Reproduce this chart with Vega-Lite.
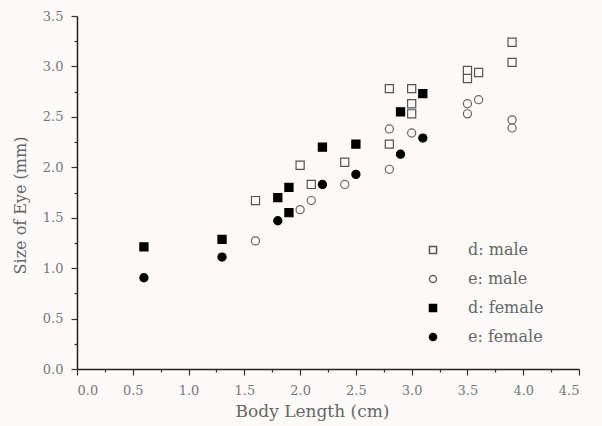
{
  "$schema": "https://vega.github.io/schema/vega-lite/v6.json",
  "width": 502,
  "height": 353,
  "autosize": "none",
  "padding": {"left": 77, "top": 16, "right": 23, "bottom": 57},
  "background": "#fdfbf9",
  "config": {
    "view": {"stroke": null},
    "axis": {
      "grid": false,
      "domainColor": "#222",
      "domainWidth": 1.5,
      "tickColor": "#333",
      "tickWidth": 1.2,
      "labelColor": "#777",
      "labelFont": "DejaVu Serif",
      "labelFontSize": 13,
      "labelPadding": 8,
      "titleFont": "DejaVu Serif",
      "titleFontSize": 16,
      "titleFontWeight": "normal",
      "titleColor": "#666"
    },
    "legend": {
      "labelFont": "DejaVu Serif",
      "labelFontSize": 16,
      "labelColor": "#666"
    }
  },
  "data": {
    "values": [
      {"x": 3.9, "y": 3.24, "series": "d: male"},
      {"x": 3.9, "y": 3.04, "series": "d: male"},
      {"x": 3.5, "y": 2.96, "series": "d: male"},
      {"x": 3.5, "y": 2.88, "series": "d: male"},
      {"x": 3.6, "y": 2.94, "series": "d: male"},
      {"x": 2.8, "y": 2.78, "series": "d: male"},
      {"x": 3.0, "y": 2.78, "series": "d: male"},
      {"x": 3.0, "y": 2.63, "series": "d: male"},
      {"x": 3.0, "y": 2.53, "series": "d: male"},
      {"x": 2.8, "y": 2.23, "series": "d: male"},
      {"x": 2.0, "y": 2.02, "series": "d: male"},
      {"x": 2.4, "y": 2.05, "series": "d: male"},
      {"x": 2.1, "y": 1.83, "series": "d: male"},
      {"x": 1.6, "y": 1.67, "series": "d: male"},
      {"x": 3.5, "y": 2.63, "series": "e: male"},
      {"x": 3.5, "y": 2.53, "series": "e: male"},
      {"x": 3.6, "y": 2.67, "series": "e: male"},
      {"x": 3.9, "y": 2.47, "series": "e: male"},
      {"x": 3.9, "y": 2.39, "series": "e: male"},
      {"x": 2.8, "y": 2.38, "series": "e: male"},
      {"x": 3.0, "y": 2.34, "series": "e: male"},
      {"x": 2.8, "y": 1.98, "series": "e: male"},
      {"x": 2.4, "y": 1.83, "series": "e: male"},
      {"x": 2.1, "y": 1.67, "series": "e: male"},
      {"x": 2.0, "y": 1.58, "series": "e: male"},
      {"x": 1.6, "y": 1.27, "series": "e: male"},
      {"x": 3.1, "y": 2.73, "series": "d: female"},
      {"x": 2.9, "y": 2.55, "series": "d: female"},
      {"x": 2.2, "y": 2.2, "series": "d: female"},
      {"x": 2.5, "y": 2.23, "series": "d: female"},
      {"x": 1.9, "y": 1.8, "series": "d: female"},
      {"x": 1.8, "y": 1.7, "series": "d: female"},
      {"x": 1.9, "y": 1.55, "series": "d: female"},
      {"x": 0.6, "y": 1.21, "series": "d: female"},
      {"x": 1.3, "y": 1.285, "series": "d: female"},
      {"x": 3.1, "y": 2.29, "series": "e: female"},
      {"x": 2.9, "y": 2.13, "series": "e: female"},
      {"x": 2.5, "y": 1.93, "series": "e: female"},
      {"x": 2.2, "y": 1.83, "series": "e: female"},
      {"x": 1.8, "y": 1.47, "series": "e: female"},
      {"x": 0.6, "y": 0.905, "series": "e: female"},
      {"x": 1.3, "y": 1.11, "series": "e: female"}
    ]
  },
  "mark": {"type": "point", "filled": true, "size": 66, "strokeWidth": 1.2, "opacity": 1},
  "encoding": {
    "x": {
      "field": "x",
      "type": "quantitative",
      "scale": {"domain": [0, 4.5], "nice": false, "zero": false},
      "axis": {
        "title": "Body Length (cm)",
        "titleX": 235,
        "titleY": 42,
        "titleBaseline": "middle",
        "titleFontSize": 17,
        "labelPadding": 9,
        "values": [0, 0.25, 0.5, 0.75, 1, 1.25, 1.5, 1.75, 2, 2.25, 2.5, 2.75, 3, 3.25, 3.5, 3.75, 4, 4.25, 4.5],
        "labelExpr": "(datum.value * 2) % 1 == 0 ? format(datum.value, '.1f') : ''",
        "tickSize": {"condition": {"test": "(datum.value * 2) % 1 == 0", "value": 6}, "value": 3}
      }
    },
    "y": {
      "field": "y",
      "type": "quantitative",
      "scale": {"domain": [0, 3.5], "nice": false, "zero": false},
      "axis": {
        "title": "Size of Eye (mm)",
        "titleX": -57,
        "titleY": 189,
        "titleBaseline": "middle",
        "titleAlign": "center",
        "values": [0, 0.25, 0.5, 0.75, 1, 1.25, 1.5, 1.75, 2, 2.25, 2.5, 2.75, 3, 3.25, 3.5],
        "labelExpr": "(datum.value * 2) % 1 == 0 ? format(datum.value, '.1f') : ''",
        "tickSize": {"condition": {"test": "(datum.value * 2) % 1 == 0", "value": 6}, "value": 3}
      }
    },
    "shape": {
      "field": "series",
      "type": "nominal",
      "scale": {"domain": ["d: male", "e: male", "d: female", "e: female"], "range": ["square", "circle", "square", "circle"]},
      "legend": {"title": null, "orient": "none", "legendX": 348, "legendY": 226, "rowPadding": 13, "labelOffset": 27, "symbolSize": 50, "padding": 0}
    },
    "fill": {
      "field": "series",
      "type": "nominal",
      "scale": {"domain": ["d: male", "e: male", "d: female", "e: female"], "range": ["#fdfbf9", "#fdfbf9", "#000000", "#000000"]},
      "legend": {"title": null, "orient": "none", "legendX": 348, "legendY": 226, "rowPadding": 13, "labelOffset": 27, "symbolSize": 50, "padding": 0}
    },
    "stroke": {
      "field": "series",
      "type": "nominal",
      "scale": {"domain": ["d: male", "e: male", "d: female", "e: female"], "range": ["#555555", "#666666", "#000000", "#000000"]},
      "legend": {"title": null, "orient": "none", "legendX": 348, "legendY": 226, "rowPadding": 13, "labelOffset": 27, "symbolSize": 50, "padding": 0}
    }
  }
}
